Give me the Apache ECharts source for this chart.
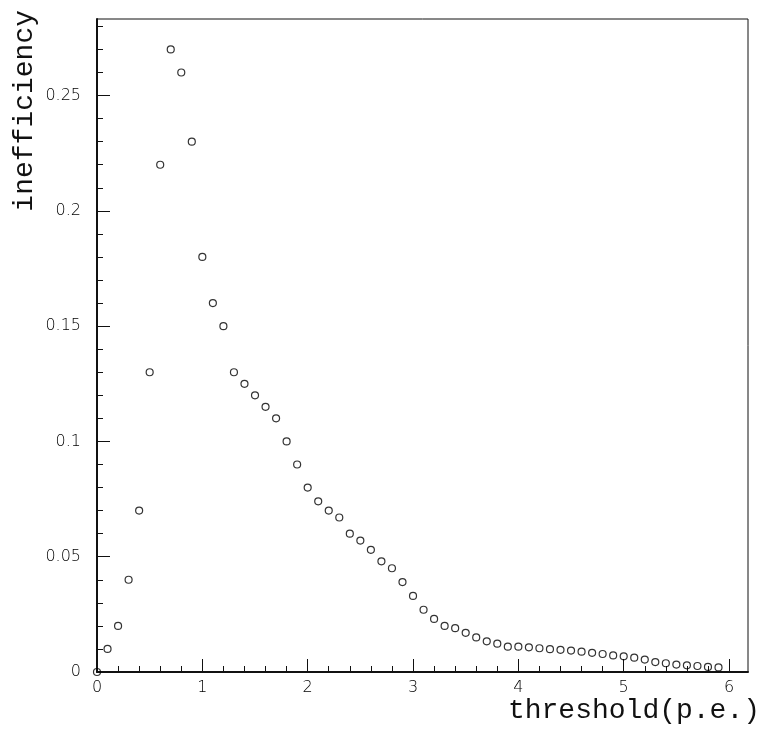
<!DOCTYPE html>
<html>
<head>
<meta charset="utf-8">
<script src="https://cdn.jsdelivr.net/npm/echarts@6/dist/echarts.min.js"></script>
<style>html,body{margin:0;padding:0;background:#fff}#c{width:764px;height:736px}</style>
</head>
<body>
<div id="c"></div>
<script>
var thresholds = [0,0.1,0.2,0.3,0.4,0.5,0.6,0.7,0.8,0.9,1.0,1.1,1.2,1.3,1.4,1.5,1.6,1.7,1.8,1.9,2.0,2.1,2.2,2.3,2.4,2.5,2.6,2.7,2.8,2.9,3.0,3.1,3.2,3.3,3.4,3.5,3.6,3.7,3.8,3.9,4.0,4.1,4.2,4.3,4.4,4.5,4.6,4.7,4.8,4.9,5.0,5.1,5.2,5.3,5.4,5.5,5.6,5.7,5.8,5.9];
var inefficiency = [0,0.010,0.020,0.040,0.070,0.130,0.220,0.270,0.260,0.230,0.180,0.160,0.150,0.130,0.125,0.120,0.115,0.110,0.100,0.090,0.080,0.074,0.070,0.067,0.060,0.057,0.053,0.048,0.045,0.039,0.033,0.027,0.023,0.020,0.019,0.017,0.015,0.0133,0.0123,0.011,0.011,0.0107,0.0103,0.0099,0.0096,0.0093,0.0088,0.0083,0.0078,0.0072,0.0068,0.0062,0.0054,0.0043,0.0038,0.0032,0.0029,0.0026,0.0022,0.0020];
var xMajorTicks = [0,1,2,3,4,5,6];
var xMinorTicks = [0.2,0.4,0.6,0.8,1.2,1.4,1.6,1.8,2.2,2.4,2.6,2.8,3.2,3.4,3.6,3.8,4.2,4.4,4.6,4.8,5.2,5.4,5.6,5.8];
var yMajorTicks = [0,0.05,0.1,0.15,0.2,0.25];
var yMinorTicks = [0.01,0.02,0.03,0.04,0.06,0.07,0.08,0.09,0.11,0.12,0.13,0.14,0.16,0.17,0.18,0.19,0.21,0.22,0.23,0.24,0.26,0.27,0.28];
var xName = 'threshold(p.e.)';
var yName = 'inefficiency';
var xMin = 0, xMax = 6.18, yMin = 0, yMax = 0.2832;

var points = thresholds.map(function (t, i) { return [t, inefficiency[i]]; });
var ink = '#111';
var labelFont = { fontFamily: 'DejaVu Sans', fontWeight: 200, fontSize: 16, color: '#000' };

var chart = echarts.init(document.getElementById('c'), null, { renderer: 'canvas' });
chart.setOption({
  animation: false,
  backgroundColor: '#fff',
  grid: { left: 97, right: 16, top: 19, bottom: 64, containLabel: false, outerBoundsMode: 'none', show: true, borderColor: ink, borderWidth: 1, backgroundColor: 'transparent' },
  xAxis: [{
    type: 'value', min: xMin, max: xMax, position: 'bottom',
    axisLine: { show: true, onZero: false, lineStyle: { color: ink, width: 2 } },
    axisTick: { show: true, inside: true, length: 13, customValues: xMajorTicks, lineStyle: { color: ink, width: 1 } },
    axisLabel: Object.assign({ show: true, margin: 8, customValues: xMajorTicks, formatter: function (v) { return String(v); } }, labelFont),
    splitLine: { show: false },
    name: xName, nameLocation: 'end', nameGap: 12, nameMoveOverlap: false,
    nameTextStyle: { fontFamily: 'Liberation Mono', fontSize: 28, color: ink, align: 'right', verticalAlign: 'top', padding: [25, 0, 0, 0] }
  }, {
    type: 'value', min: xMin, max: xMax, position: 'bottom',
    axisLine: { show: false, onZero: false },
    axisTick: { show: true, inside: true, length: 6, customValues: xMinorTicks, lineStyle: { color: ink, width: 1 } },
    axisLabel: { show: false }, splitLine: { show: false }
  }],
  yAxis: [{
    type: 'value', min: yMin, max: yMax, position: 'left',
    axisLine: { show: true, onZero: false, lineStyle: { color: ink, width: 2 } },
    axisTick: { show: true, inside: true, length: 13, customValues: yMajorTicks, lineStyle: { color: ink, width: 1 } },
    axisLabel: Object.assign({ show: true, margin: 16, customValues: yMajorTicks, formatter: function (v) { return String(v); } }, labelFont),
    splitLine: { show: false },
    name: yName, nameLocation: 'end', nameGap: 9, nameRotate: 90, nameMoveOverlap: false,
    nameTextStyle: { fontFamily: 'Liberation Mono', fontSize: 28, color: ink, align: 'right', verticalAlign: 'bottom', padding: [0, 0, 58, 0] }
  }, {
    type: 'value', min: yMin, max: yMax, position: 'left',
    axisLine: { show: false, onZero: false },
    axisTick: { show: true, inside: true, length: 6, customValues: yMinorTicks, lineStyle: { color: ink, width: 1 } },
    axisLabel: { show: false }, splitLine: { show: false }
  }],
  series: [{
    type: 'scatter', xAxisIndex: 0, yAxisIndex: 0,
    data: points, symbol: 'circle', symbolSize: 7, clip: false,
    itemStyle: { color: 'rgba(255,255,255,0)', borderColor: '#000', borderWidth: 1.2 },
    z: 5
  }]
});
</script>
</body>
</html>
